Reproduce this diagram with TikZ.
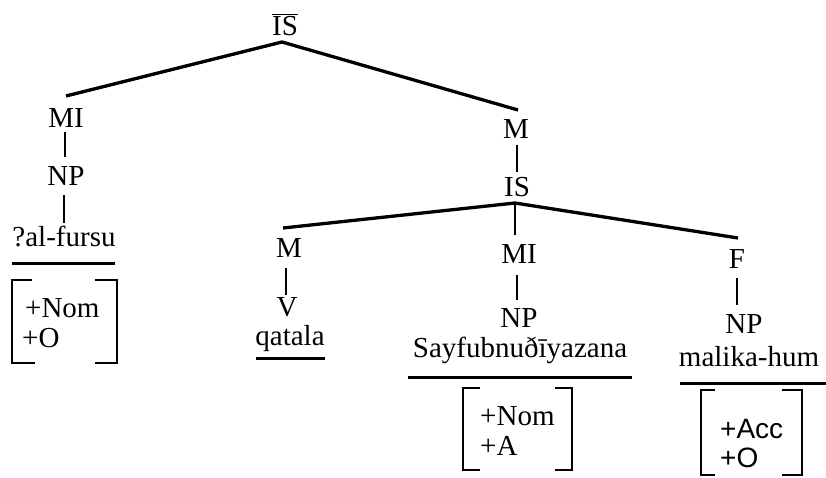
\documentclass[tikz,border=0pt]{standalone}
\usepackage{fontspec}
\setmainfont{Liberation Serif}
\newfontfamily\sansf{Liberation Sans}
\begin{document}
\begin{tikzpicture}[x=1pt,y=-1pt,
  lbl/.style={inner sep=0pt,anchor=base,font=\fontsize{29}{32}\selectfont},
  feat/.style={inner sep=0pt,anchor=base west,font=\fontsize{29}{32}\selectfont},
  branch/.style={line width=3.3pt},
  stem/.style={line width=2.1pt},
  uline/.style={line width=3pt},
  brk/.style={line width=2.6pt}]
\useasboundingbox (0,0) rectangle (826,477);
% top
\node[lbl] (ISbar) at (285,35) {$\overline{\mbox{IS}}$};
\coordinate (apex1) at (282,42);
\node[lbl] (MIa) at (66,127) {MI};
\node[lbl] (NPa) at (66,185) {NP};
\node[lbl] (wa) at (64,246) {?al-fursu};
\coordinate (MIaT) at (66,96);
\node[lbl] (Mr) at (516,138) {M};
\coordinate (MrT) at (518,110);
\draw[branch] (MIaT) -- (apex1) -- (MrT);
\coordinate (sa1) at (65,132);
\coordinate (sa2) at (65,157);
\draw[stem] (sa1) -- (sa2);
\coordinate (sb1) at (64,195);
\coordinate (sb2) at (64,223);
\draw[stem] (sb1) -- (sb2);
\draw[uline] (12,263) -- (115,263);
% left brackets
\draw[brk] (32,280) -- (12,280) -- (12,363) -- (35,363);
\draw[brk] (95,280) -- (117,280) -- (117,363) -- (95,363);
\node[feat] (fa1) at (25,317) {+Nom};
\node[feat] (fa2) at (22,347) {+O};
% IS
\node[lbl] (ISm) at (517,196) {IS};
\coordinate (sc1) at (517,145);
\coordinate (sc2) at (517,172);
\draw[stem] (sc1) -- (sc2);
\coordinate (apex2) at (515,203);
\coordinate (MlT) at (283,228);
\coordinate (FT) at (738,238);
\coordinate (MImT) at (515,235);
\draw[branch] (MlT) -- (apex2) -- (FT);
\draw[stem] (apex2) -- (MImT);
% M V qatala
\node[lbl] (Ml) at (289,257) {M};
\coordinate (sd1) at (286,268);
\coordinate (sd2) at (286,295);
\draw[stem] (sd1) -- (sd2);
\node[lbl] (V) at (287,316) {V};
\node[lbl] (q) at (290,345) {qatala};
\draw[uline] (256,358) -- (325,358);
% MI NP Sayf
\node[lbl] (MIm) at (519,263) {MI};
\coordinate (se1) at (517,275);
\coordinate (se2) at (517,300);
\draw[stem] (se1) -- (se2);
\node[lbl] (NPm) at (519,327) {NP};
\node[lbl] (sy) at (520,357) {Sayfubnuðīyazana};
\draw[uline] (408,377) -- (632,377);
\draw[brk] (480,388) -- (463,388) -- (463,470) -- (480,470);
\draw[brk] (555,388) -- (572,388) -- (572,470) -- (555,470);
\node[feat] (fm1) at (480,425) {+Nom};
\node[feat] (fm2) at (480,455) {+A};
% F NP malika
\node[lbl] (F) at (737,268) {F};
\coordinate (sf1) at (737,278);
\coordinate (sf2) at (737,305);
\draw[stem] (sf1) -- (sf2);
\node[lbl] (NPr) at (744,333) {NP};
\node[lbl] (mk) at (749,366) {malika-hum};
\draw[uline] (680,383) -- (826,383);
\draw[brk] (715,390) -- (701,390) -- (701,475) -- (715,475);
\draw[brk] (782,390) -- (802,390) -- (802,475) -- (782,475);
\node[feat,font=\sansf\fontsize{28}{32}\selectfont] (fr1) at (720,438) {+Acc};
\node[feat,font=\sansf\fontsize{28}{32}\selectfont] (fr2) at (720,467) {+O};
\end{tikzpicture}
\end{document}
